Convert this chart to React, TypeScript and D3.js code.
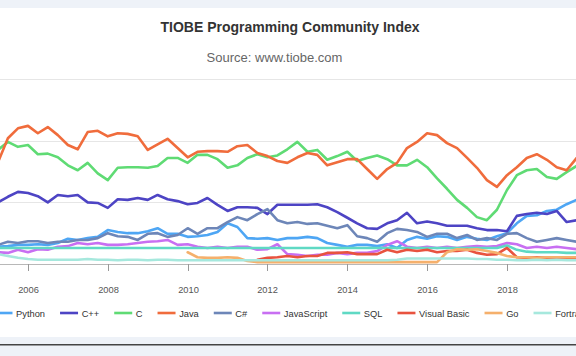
import React from "react";
import * as d3 from "d3";

const months = [
  "2005-04", "2005-07", "2005-10",
  "2006-01", "2006-04", "2006-07", "2006-10",
  "2007-01", "2007-04", "2007-07", "2007-10",
  "2008-01", "2008-04", "2008-07", "2008-10",
  "2009-01", "2009-04", "2009-07", "2009-10",
  "2010-01", "2010-04", "2010-07", "2010-10",
  "2011-01", "2011-04", "2011-07", "2011-10",
  "2012-01", "2012-04", "2012-07", "2012-10",
  "2013-01", "2013-04", "2013-07", "2013-10",
  "2014-01", "2014-04", "2014-07", "2014-10",
  "2015-01", "2015-04", "2015-07", "2015-10",
  "2016-01", "2016-04", "2016-07", "2016-10",
  "2017-01", "2017-04", "2017-07", "2017-10",
  "2018-01", "2018-04", "2018-07", "2018-10",
  "2019-01", "2019-04", "2019-07", "2019-10",
];

const python = [2.8, 2.9, 3.1, 3.1, 3.2, 3.1, 3.4, 4.1, 3.9, 4.2, 4.4, 5.5, 5.2, 5.0, 5.0, 5.3, 5.8, 4.9, 4.9, 4.4, 4.5, 4.7, 5.2, 6.6, 6.0, 4.2, 4.1, 4.2, 3.9, 4.2, 4.2, 4.4, 4.2, 3.4, 3.1, 2.8, 3.1, 3.1, 2.9, 3.2, 2.6, 3.9, 4.4, 4.1, 4.5, 4.4, 3.9, 4.4, 4.1, 3.9, 4.5, 5.0, 6.6, 7.8, 7.9, 8.6, 8.8, 9.7, 10.4];
const cpp = [10.0, 10.9, 11.7, 11.5, 11.0, 10.0, 11.2, 11.0, 11.2, 10.0, 9.9, 9.1, 10.5, 10.4, 10.7, 10.4, 11.2, 10.5, 10.2, 9.7, 9.9, 10.7, 9.6, 8.6, 9.2, 9.2, 9.1, 8.1, 9.6, 9.6, 9.6, 9.6, 9.7, 9.2, 8.4, 7.5, 6.6, 5.8, 5.7, 6.6, 7.1, 8.3, 6.6, 6.9, 6.6, 6.2, 6.2, 6.2, 5.8, 5.5, 5.5, 5.3, 7.8, 8.1, 8.3, 8.1, 8.6, 6.8, 7.1];
const cLang = [18.5, 19.8, 19.0, 19.3, 17.8, 17.9, 17.3, 16.0, 15.2, 16.4, 14.7, 13.6, 15.6, 15.7, 15.7, 15.6, 15.9, 17.2, 17.2, 16.4, 17.7, 17.7, 17.0, 15.6, 16.0, 17.2, 17.8, 17.3, 17.6, 18.6, 19.8, 18.2, 18.5, 16.9, 17.5, 18.2, 16.7, 17.2, 17.6, 17.0, 16.0, 16.0, 16.9, 15.7, 13.9, 12.2, 10.4, 9.1, 7.6, 7.1, 8.8, 12.0, 14.4, 15.2, 15.4, 14.1, 13.8, 14.9, 15.9];
const java = [16.5, 20.4, 22.0, 22.4, 21.2, 22.2, 20.9, 19.3, 18.6, 21.4, 21.6, 20.7, 21.2, 21.1, 20.7, 18.5, 19.4, 20.3, 18.8, 17.3, 18.2, 18.3, 18.3, 18.2, 19.1, 19.3, 18.0, 17.5, 16.7, 16.4, 17.3, 18.0, 17.7, 16.0, 16.5, 17.0, 17.0, 15.4, 13.8, 15.4, 16.4, 18.8, 19.8, 21.2, 20.9, 19.6, 18.8, 17.2, 15.6, 13.6, 12.5, 14.4, 15.7, 17.2, 17.8, 16.9, 15.7, 15.2, 17.2];
const csharp = [3.1, 3.6, 3.4, 3.7, 3.7, 3.4, 3.6, 3.6, 3.9, 3.9, 4.2, 5.0, 4.5, 4.4, 3.9, 4.9, 5.0, 4.4, 4.7, 5.8, 4.9, 5.8, 5.8, 6.8, 7.6, 7.1, 8.1, 8.9, 7.1, 6.6, 6.8, 6.5, 6.6, 6.2, 5.8, 6.3, 4.5, 4.2, 3.6, 5.0, 5.7, 5.5, 5.2, 4.4, 4.9, 4.9, 4.2, 4.7, 3.9, 4.2, 3.9, 4.9, 5.0, 4.2, 3.6, 3.9, 4.2, 3.9, 3.6];
const javascript = [1.9, 1.8, 2.3, 1.9, 2.4, 2.3, 2.8, 2.9, 3.4, 3.2, 3.4, 3.1, 3.1, 3.2, 3.4, 3.6, 3.7, 3.9, 3.1, 3.2, 2.8, 2.6, 2.8, 2.6, 2.8, 2.8, 2.3, 2.4, 3.2, 1.6, 1.5, 1.3, 1.5, 1.5, 1.8, 1.6, 1.8, 1.8, 2.1, 3.1, 3.7, 2.8, 2.6, 2.8, 2.6, 2.8, 2.6, 2.8, 2.9, 2.8, 2.9, 3.4, 3.2, 2.6, 2.8, 2.6, 2.8, 2.6, 2.4];
const sql = [2.6, 2.6, 2.6, 2.6, 2.6, 2.6, 2.6, 2.6, 2.6, 2.6, 2.6, 2.6, 2.6, 2.6, 2.6, 2.6, 2.6, 2.6, 2.6, 2.6, 2.6, 2.6, 2.6, 2.6, 2.6, 2.6, 2.6, 2.6, 2.6, 2.6, 2.6, 2.6, 2.6, 2.6, 2.6, 2.6, 2.6, 2.6, 2.6, 2.6, 2.6, 2.6, 2.6, 2.6, 2.6, 2.6, 2.6, 2.6, 2.6, 2.6, 2.6, 3.0, 2.3, 2.0, 1.9, 1.9, 1.9, 1.8, 1.8];
const visualBasic = [null, null, null, null, null, null, null, null, null, null, null, null, null, null, null, null, null, null, null, null, null, null, null, null, null, null, 0.7, 1.0, 1.1, 1.3, 1.1, 1.3, 1.3, 1.8, 1.8, 1.9, 1.6, 1.6, 1.6, 2.3, 1.9, 2.3, 2.1, 2.3, 1.9, 2.1, 2.1, 2.3, 1.8, 1.5, 1.6, 2.6, 1.1, 1.0, 1.1, 1.0, 0.8, 0.8, 0.8];
const go = [null, null, null, null, null, null, null, null, null, null, null, null, null, null, null, null, null, null, null, 1.9, 1.1, 1.0, 1.0, 1.1, 1.0, 0.5, 0.3, 0.3, 0.3, 0.3, 0.3, 0.3, 0.3, 0.3, 0.3, 0.3, 0.3, 0.3, 0.3, 0.3, 0.3, 0.3, 0.3, 0.3, 0.3, 1.9, 2.4, 2.3, 2.4, 2.1, 1.8, 1.3, 1.1, 1.1, 1.0, 1.1, 1.1, 1.1, 1.1];
const fortran = [1.6, 1.3, 1.0, 0.8, 0.7, 0.7, 0.7, 0.7, 0.7, 0.8, 0.7, 0.7, 0.6, 0.7, 0.7, 0.6, 0.7, 0.7, 0.6, 0.6, 0.6, 0.6, 0.6, 0.6, 0.6, 0.6, 0.6, 0.6, 0.6, 0.6, 0.6, 0.6, 0.6, 0.6, 0.6, 0.6, 0.6, 0.6, 0.6, 0.6, 0.7, 0.9, 0.9, 0.9, 0.9, 0.9, 0.9, 0.9, 0.8, 0.8, 0.7, 0.7, 0.6, 0.6, 0.7, 0.6, 0.7, 0.6, 0.6];

const seriesNames = ["Python", "C++", "C", "Java", "C#", "JavaScript", "SQL", "Visual Basic", "Go", "Fortran"];
const seriesValues = [python, cpp, cLang, java, csharp, javascript, sql, visualBasic, go, fortran];
const seriesColors = ["#4ea6f4", "#4d44c4", "#5fdb74", "#f06c3c", "#6d86b8", "#c86ff2", "#5fd9c4", "#e8533f", "#f5b06c", "#a6e8dd"];

const yTicks = [0, 10, 20, 30];
const xTickYears = ["2006", "2008", "2010", "2012", "2014", "2016", "2018"];

const W = 576;
const H = 356;
const FONT = "'Liberation Sans', Arial, Helvetica, sans-serif";
const LEG_FONT_SIZE = 9.3;

function measure(text: string, size: number): number {
  const c = document.createElement("canvas");
  const ctx = c.getContext("2d");
  if (!ctx) return text.length * size * 0.55;
  ctx.font = `${size}px ${FONT}`;
  return ctx.measureText(text).width;
}

export default function App() {
  const parse = d3.timeParse("%Y-%m");
  const dates = months.map((m) => parse(m) as Date);
  const yearParse = d3.timeParse("%Y");

  const x = d3
    .scaleTime()
    .domain([yearParse("2006") as Date, yearParse("2018") as Date])
    .range([28, 507]);
  const y = d3.scaleLinear().domain([0, 30]).range([264, 79]);

  const line = d3
    .line<number | null>()
    .defined((d) => d !== null)
    .x((_, i) => x(dates[i]))
    .y((d) => y(d as number));

  // legend layout
  const legendItems: { name: string; color: string; x: number }[] = [];
  let lx = -5.5;
  seriesNames.forEach((name, i) => {
    legendItems.push({ name, color: seriesColors[i], x: lx });
    lx += 21.6 + measure(name, LEG_FONT_SIZE) + 15;
  });

  return (
    <div style={{ position: "absolute", left: 0, top: 0 }}>
      <svg width={W} height={H} style={{ display: "block", fontFamily: FONT }}>
        <rect x={0} y={0} width={W} height={H} fill="#eef2f8" />
        <rect x={0} y={8} width={W} height={329} fill="#ffffff" />
        <rect x={0} y={344} width={W} height={1.5} fill="#444" />

        <text x={290} y={32} textAnchor="middle" fontSize={14} fontWeight="bold" fill="#333">
          TIOBE Programming Community Index
        </text>
        <text x={274.5} y={62} textAnchor="middle" fontSize={13} fill="#666">
          Source: www.tiobe.com
        </text>

        {yTicks.slice(1).map((t) => (
          <line key={t} x1={0} x2={W} y1={Math.round(y(t)) + 0.5} y2={Math.round(y(t)) + 0.5} stroke="#e6e6e6" strokeWidth={1} />
        ))}
        <line x1={0} x2={W} y1={y(0) + 0.5} y2={y(0) + 0.5} stroke="#b8b8b8" strokeWidth={1} />
        {xTickYears.map((yr) => {
          const px = Math.round(x(yearParse(yr) as Date)) + 0.5;
          return (
            <g key={yr}>
              <line x1={px} x2={px} y1={y(0)} y2={y(0) + 7} stroke="#999" strokeWidth={1} />
              <text x={px} y={292.5} textAnchor="middle" fontSize={9.3} fill="#555">
                {yr}
              </text>
            </g>
          );
        })}

        {seriesValues.map((vals, i) => (
          <path
            key={seriesNames[i]}
            d={line(vals as (number | null)[]) || ""}
            fill="none"
            stroke={seriesColors[i]}
            strokeWidth={2.6}
            strokeLinejoin="round"
            strokeLinecap="round"
          />
        ))}

        {legendItems.map((it) => (
          <g key={it.name}>
            <line x1={it.x} x2={it.x + 18} y1={313} y2={313} stroke={it.color} strokeWidth={2.6} />
            <text x={it.x + 21.6} y={316.5} fontSize={LEG_FONT_SIZE} fill="#333">
              {it.name}
            </text>
          </g>
        ))}
      </svg>
    </div>
  );
}
